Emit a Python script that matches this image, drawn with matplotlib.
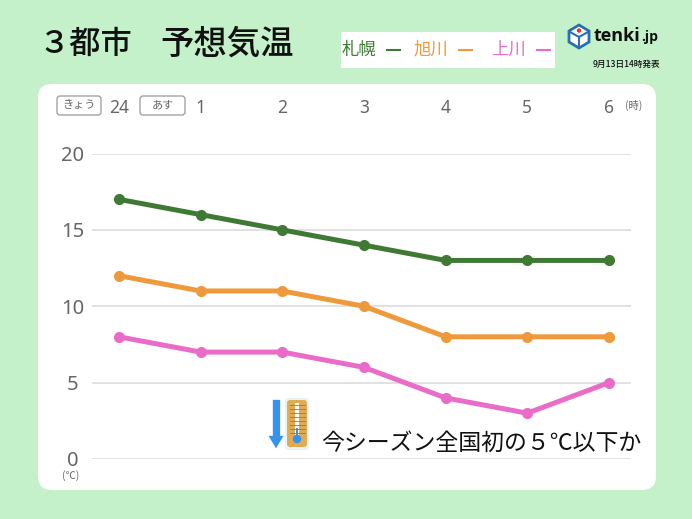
import matplotlib
matplotlib.use('Agg')
import matplotlib.pyplot as plt
from matplotlib.patches import FancyBboxPatch, Rectangle, Polygon, Circle

plt.rcParams['font.family'] = ['Noto Sans CJK JP', 'DejaVu Sans']

# データ
時刻 = ['24', '1', '2', '3', '4', '5', '6']
札幌 = [17, 16, 15, 14, 13, 13, 13]
旭川 = [12, 11, 11, 10, 8, 8, 8]
上川 = [8, 7, 7, 6, 4, 3, 5]
y目盛 = [0, 5, 10, 15, 20]

緑 = '#3f7a35'
橙 = '#ee9a3c'
桃 = '#e86cc8'
灰 = '#666666'

W, H = 692, 519
fig = plt.figure(figsize=(W / 100, H / 100), dpi=100, facecolor='#c4f0ca')

# 背景と装飾はピクセル座標で描く
bg = fig.add_axes([0, 0, 1, 1], zorder=0)
bg.set_xlim(0, W)
bg.set_ylim(H, 0)
bg.axis('off')
bg.add_patch(FancyBboxPatch((38, 84), 618, 406, boxstyle='round,pad=0,rounding_size=14',
                            fc='white', ec='none'))

bg.text(38, 44, '３都市', fontsize=22.5, weight='medium', color='#111111', va='center')
bg.text(160, 44, '予想気温', fontsize=24, weight='medium', color='#111111', va='center')

bg.add_patch(Rectangle((341, 32), 214, 36, fc='white', ec='none'))
for x, s, c in [(342, '札幌', 緑), (414, '旭川', 橙), (491, '上川', 桃)]:
    bg.text(x, 50, s, fontsize=12.5, color=c, va='center')
for x, c in [(386, 緑), (458, 橙), (536, 桃)]:
    bg.plot([x, x + 15], [49.5, 49.5], color=c, lw=1.5, solid_capstyle='butt')

# ロゴ
bg.add_patch(Polygon([(579, 25), (589, 31), (589, 42), (579, 48), (569, 42), (569, 31)],
                     fc='white', ec='#2c6fb0', lw=2))
bg.plot([570, 579, 588], [32, 37, 32], color='#2c6fb0', lw=1.5)
bg.plot([579, 579], [37, 47], color='#2c6fb0', lw=1.5)
bg.add_patch(Circle((579, 30.5), 2.2, fc='#e03030', ec='none'))
bg.text(594, 36, 'tenki', fontsize=13, weight='bold', color='#111111', va='center',
        family='Open Sans')
bg.text(641, 37.5, '.jp', fontsize=10, weight='bold', color='#111111', va='center',
        family='Open Sans')
bg.text(660, 64, '9月13日14時発表', fontsize=6.2, weight='medium', color='#111111',
        ha='right', va='center')

# きょう・あす
for x, w, s in [(57, 44, 'きょう'), (140, 45, 'あす')]:
    bg.add_patch(FancyBboxPatch((x, 96), w, 19, boxstyle='round,pad=0,rounding_size=3',
                                fc='white', ec='#999999', lw=0.9))
    bg.text(x + w / 2, 105, s, fontsize=8, color=灰, ha='center', va='center')
bg.text(634, 105, '(時)', fontsize=7.5, color=灰, ha='center', va='center')
bg.text(71, 476, '(℃)', fontsize=7.5, color=灰, ha='center', va='center')

# グラフ本体
ax = fig.add_axes([92 / W, 1 - 459 / H, (631 - 92) / W, (459 - 153.5) / H], zorder=1)
ax.patch.set_alpha(0)
x = list(range(len(時刻)))
for vals, c in [(札幌, 緑), (旭川, 橙), (上川, 桃)]:
    ax.plot(x, vals, color=c, lw=3.6, marker='o', ms=7, mec=c, mfc=c, clip_on=False)
ax.set_xlim(-0.33, 6.27)
ax.set_ylim(0, 20)
ax.set_yticks(y目盛)
ax.set_xticks(x)
ax.set_xticklabels(時刻, family='Noto Sans')
ax.xaxis.tick_top()
ax.tick_params(axis='x', length=0, pad=26, labelsize=12.5, labelcolor=灰)
ax.tick_params(axis='y', length=0, pad=14, labelsize=14.5, labelcolor=灰)
for lab in ax.get_yticklabels():
    lab.set_family('Noto Sans')
    lab.set_ha('center')
ax.grid(axis='y', color='#d8d8d8', lw=1.1)
ax.set_axisbelow(True)
for s in ax.spines.values():
    s.set_visible(False)

# 注釈とアイコン
fg = fig.add_axes([0, 0, 1, 1], zorder=2)
fg.set_xlim(0, W)
fg.set_ylim(H, 0)
fg.axis('off')
fg.add_patch(Polygon([(272, 399), (281, 399), (281, 435), (285, 435), (276, 450), (267, 435), (272, 435)],
                     fc='#3593ee', ec='white', lw=1.2))
fg.add_patch(FancyBboxPatch((285, 398), 24, 52, boxstyle='round,pad=0,rounding_size=4',
                            fc='#e4f4f8', ec='none'))
fg.add_patch(FancyBboxPatch((287, 400), 20, 47, boxstyle='round,pad=0,rounding_size=3',
                            fc='#e0ab52', ec='none'))
for yy in range(405, 435, 4):
    fg.plot([289.5, 304.5], [yy, yy], color='#a07830', lw=0.6)
fg.add_patch(Rectangle((295, 403), 4, 32, fc='white', ec='none'))
fg.add_patch(Circle((297, 439), 4.2, fc='#3593ee', ec='none'))
fg.add_patch(Rectangle((296, 428), 2, 9, fc='#3593ee', ec='none'))
fg.text(321, 443, '今シーズン全国初の５℃以下か', fontsize=16.5, color='#111111', va='center')

fig.savefig('out.png', dpi=100, facecolor=fig.get_facecolor())
